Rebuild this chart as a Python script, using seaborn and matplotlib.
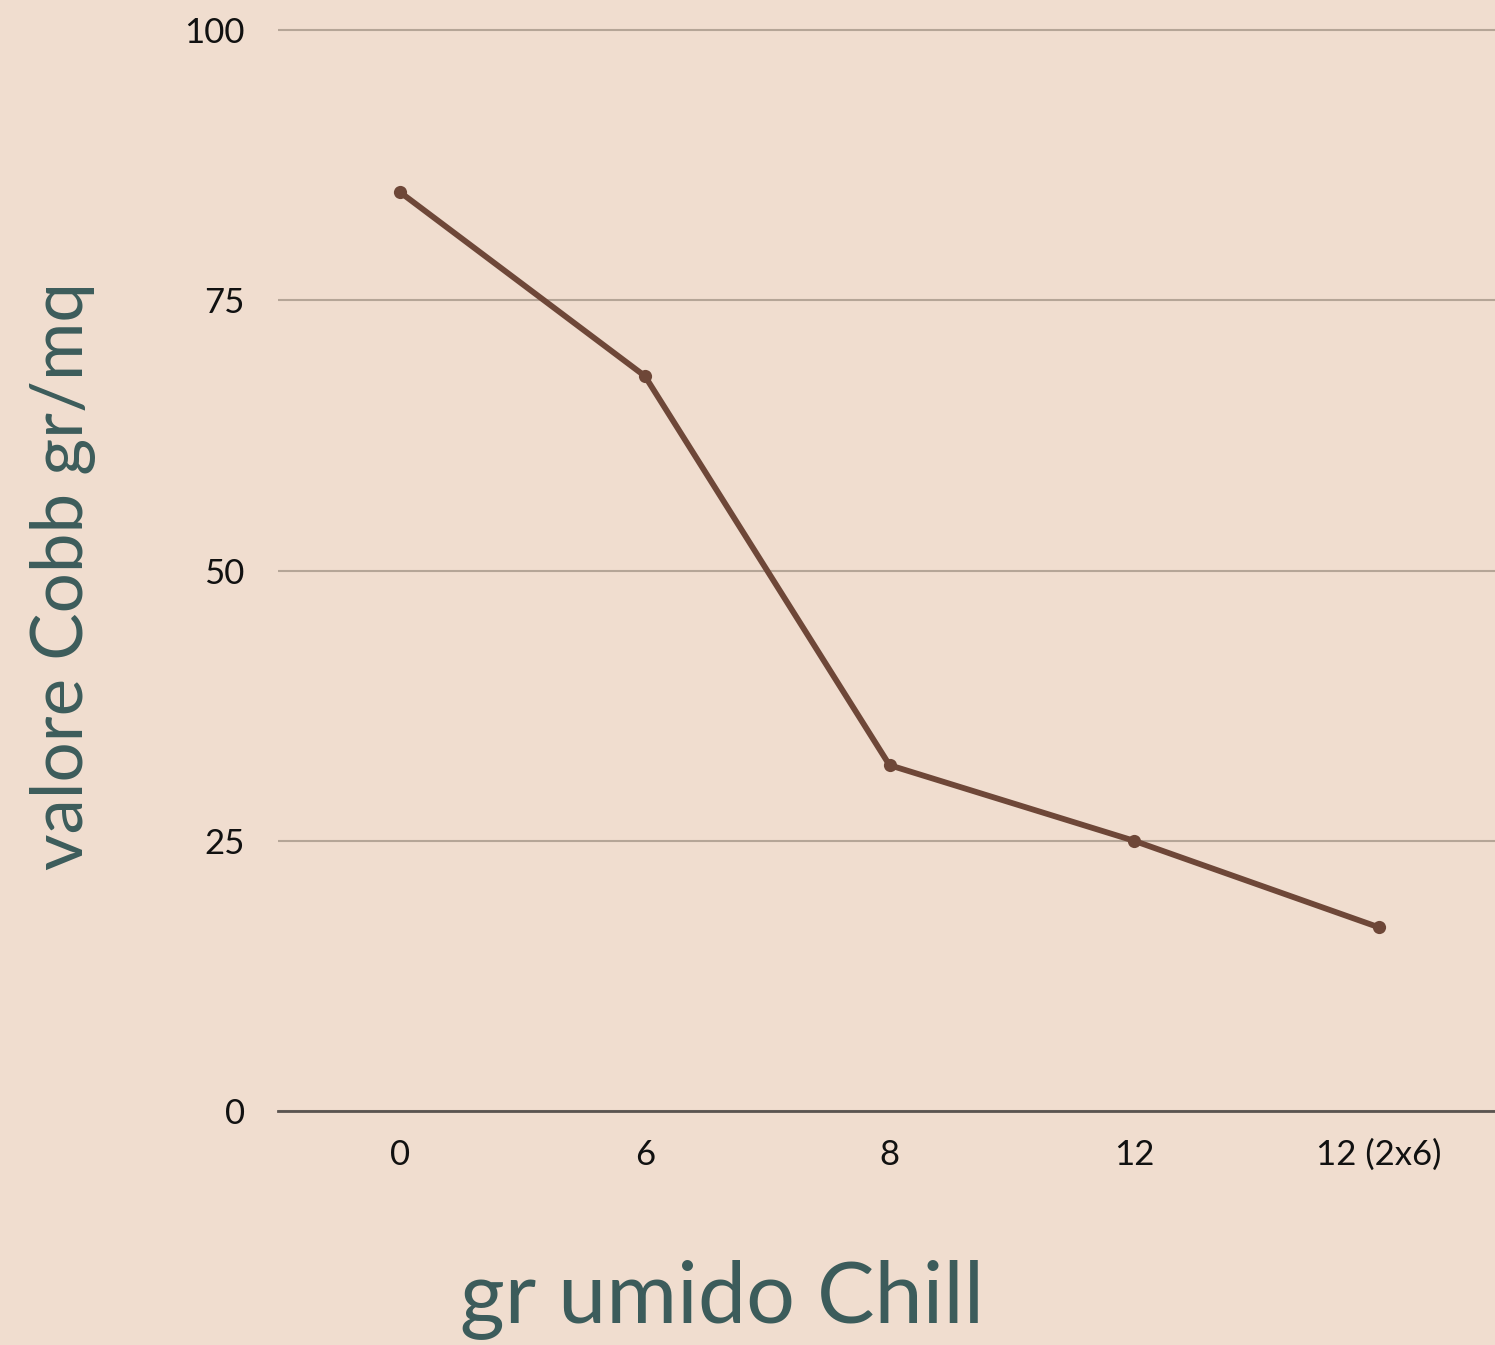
import matplotlib
matplotlib.use('Agg')
import matplotlib.pyplot as plt
import seaborn as sns
import pandas as pd

# data
categorie = ['0', '6', '8', '12', '12 (2x6)']
valori = [85, 68, 32, 25, 17]
y_ticks = [0, 25, 50, 75, 100]

bg = '#F0DDCF'
line_col = '#6E4738'
text_col = '#3C5C5B'

sns.set_theme(style='white')
plt.rcParams['font.family'] = ['Lato', 'DejaVu Sans']

df = pd.DataFrame({'gr': categorie, 'cobb': valori})

fig = plt.figure(figsize=(14.95, 13.45), dpi=100, facecolor=bg)
ax = fig.add_axes([0.186, 0.174, 0.818, 0.8075])
ax.set_facecolor(bg)

sns.lineplot(data=df, x='gr', y='cobb', sort=False, ax=ax, color=line_col,
             linewidth=4.2, marker='o', markersize=9.5, markeredgewidth=0)

ax.set_xlim(-0.5, 4.5)
ax.set_ylim(0, 100.5)
ax.set_yticks(y_ticks)
ax.set_yticklabels([str(v) for v in y_ticks])
ax.yaxis.grid(True, color='#B5A597', linewidth=1.5)
ax.xaxis.grid(False)
for s in ['top', 'right', 'left']:
    ax.spines[s].set_visible(False)
ax.spines['bottom'].set_color('#5A5450')
ax.spines['bottom'].set_linewidth(2)
ax.tick_params(axis='both', length=0, labelsize=25, colors='#111111')
ax.tick_params(axis='y', pad=24)
ax.tick_params(axis='x', pad=20)

ax.set_xlabel('')
ax.set_ylabel('')
fig.text(0.483, 0.017, 'gr umido Chill', color=text_col, fontsize=62,
         ha='center', va='baseline')
fig.text(0.042, 0.572, 'valore Cobb gr/mq', color=text_col, fontsize=51,
         rotation=90, ha='center', va='center')

fig.savefig('out.png', dpi=100, facecolor=bg)
